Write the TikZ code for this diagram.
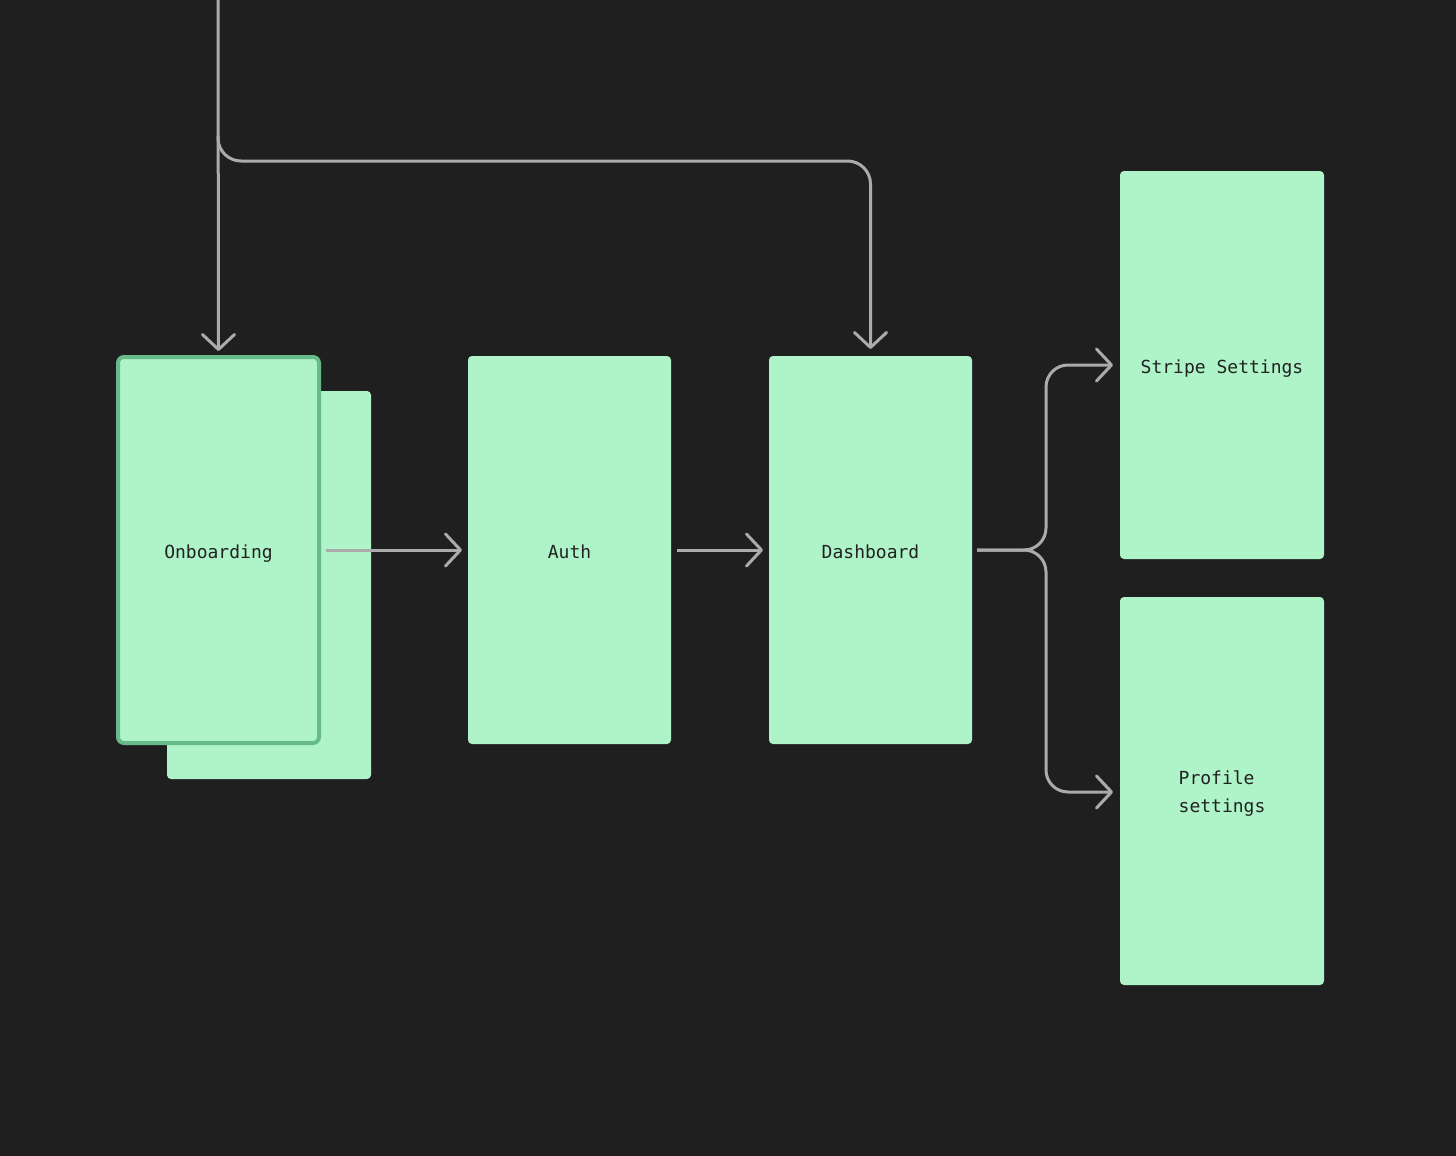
\documentclass[tikz,border=0pt]{standalone}
\usepackage{fontspec}
\setmonofont{DejaVu Sans Mono}
\usetikzlibrary{arrows.meta}
\definecolor{bg}{HTML}{1F1F1F}
\definecolor{card}{HTML}{AEF4C8}
\definecolor{cardedge}{HTML}{66BB88}
\definecolor{wire}{HTML}{ABABAB}
\definecolor{ink}{HTML}{222222}
\newcommand{\lowtext}[2][-4pt]{\raisebox{#1}[\height][\depth]{\vphantom{Ag}#2}}
\begin{document}
\begin{tikzpicture}[x=1pt,y=-1pt,
  card/.style={fill=card, draw=none, rounded corners=4pt, minimum width=204pt, minimum height=388pt,
    inner sep=0pt, outer sep=0pt, text=ink, align=left,
    font=\ttfamily\fontsize{18}{28}\selectfont},
  front/.style={card, draw=cardedge, line width=4pt, rounded corners=6pt,
    minimum width=201pt, minimum height=386pt},
  conn/.style={draw=wire, line width=3pt, -{Straight Barb[length=15pt,width=32pt,round]}}]
\fill[bg] (0,0) rectangle (1456,1156);
\useasboundingbox (0,0) rectangle (1456,1156);
% cards
\node[card] (onbback) at (269,585) {};
\node[front] (onb) at (218.5,550) {\lowtext{Onboarding}};
\node[card, minimum width=203pt] (auth) at (569.5,550) {\lowtext{Auth}};
\node[card, minimum width=203pt] (dash) at (870.5,550) {\lowtext{Dashboard}};
\node[card] (stripe) at (1222,365) {\lowtext{Stripe Settings}};
\node[card] (profile) at (1222,791) {\lowtext[-2pt]{\begin{tabular}{@{}l@{}}Profile\\settings\end{tabular}}};
% helper coordinates
\coordinate (start) at (218,0);
\coordinate (fork) at (218,136);
\coordinate (bus) at (0,161);
\coordinate (split) at (1046,550);
% connectors
\draw[conn] (start) -- ([yshift=6pt]onb.north);
\draw[conn, rounded corners=23pt] (fork) |- (dash.north |- bus) -- ([yshift=7pt]dash.north);
\draw[conn] ([xshift=7pt]onb.east) -- ([xshift=-6pt]auth.west);
\draw[conn] ([xshift=6pt]auth.east) -- ([xshift=-6pt]dash.west);
\draw[conn, rounded corners=22pt] ([xshift=5pt]dash.east) -- (split) |- ([xshift=-7pt]stripe.west);
\draw[conn, rounded corners=22pt] ([xshift=5pt]dash.east) -- (split) |- ([xshift=-7pt,yshift=-1pt]profile.west);
\end{tikzpicture}
\end{document}
